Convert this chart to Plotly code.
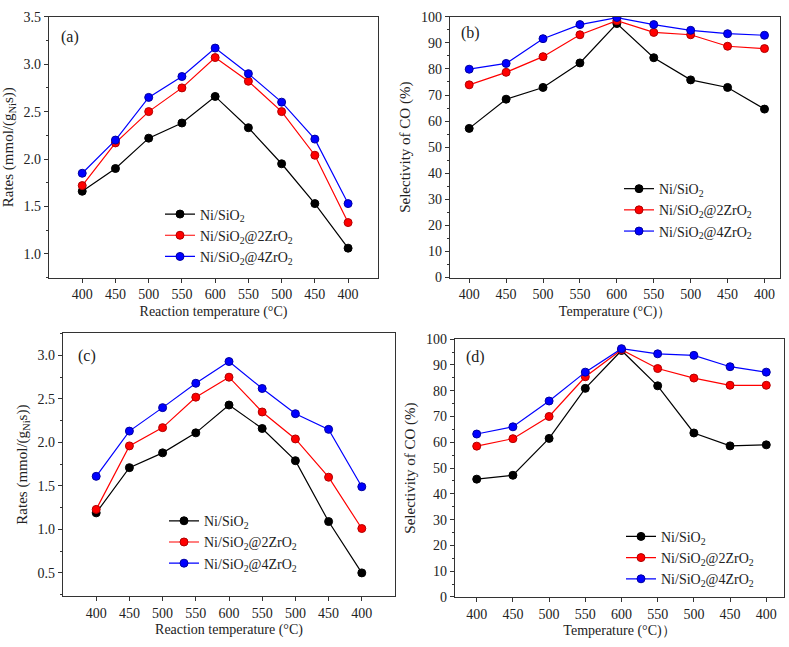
import plotly.graph_objects as go

temps = ["400", "450", "500", "550", "600", "550", "500", "450", "400"]
names = ["Ni/SiO<sub>2</sub>", "Ni/SiO<sub>2</sub>@2ZrO<sub>2</sub>", "Ni/SiO<sub>2</sub>@4ZrO<sub>2</sub>"]

a_ni = [1.66, 1.90, 2.22, 2.38, 2.66, 2.33, 1.95, 1.53, 1.06]
a_2zr = [1.72, 2.17, 2.50, 2.75, 3.07, 2.82, 2.50, 2.04, 1.33]
a_4zr = [1.85, 2.20, 2.65, 2.87, 3.17, 2.90, 2.60, 2.21, 1.53]

b_ni = [57.2, 68.4, 72.9, 82.3, 97.4, 84.3, 75.8, 72.9, 64.6]
b_2zr = [73.9, 78.7, 84.7, 93.1, 98.5, 94.0, 93.1, 88.7, 87.8]
b_4zr = [79.9, 82.1, 91.6, 97.0, 99.7, 97.0, 94.8, 93.5, 92.9]

c_ni = [1.19, 1.71, 1.88, 2.11, 2.43, 2.16, 1.79, 1.09, 0.50]
c_2zr = [1.23, 1.96, 2.17, 2.52, 2.75, 2.35, 2.04, 1.60, 1.01]
c_4zr = [1.61, 2.13, 2.40, 2.68, 2.93, 2.62, 2.33, 2.15, 1.49]

d_ni = [45.7, 47.2, 61.5, 80.9, 95.6, 81.9, 63.6, 58.6, 59.0]
d_2zr = [58.5, 61.4, 70.0, 85.4, 95.9, 88.6, 84.9, 82.1, 82.1]
d_4zr = [63.2, 66.0, 76.0, 87.2, 96.3, 94.3, 93.7, 89.3, 87.2]

colors = ["#000000", "#ff0000", "#0000ff"]
edge = ["#000000", "#b00000", "#0000a0"]

W, H = 789, 647
FONT = "Liberation Serif"

panels = [
    dict(data=[a_ni, a_2zr, a_4zr], box=(49, 378, 10, 277), xr=[-1.0, 8.9], yr=[0.75, 3.5],
         dtick=0.5, minor=0.25, fmt=".1f", ytitle="Rates (mmol/(g<sub>Ni</sub>s))",
         xtitle="Reaction temperature (°C)", label="(a)", lab=(59, 19), leg=(160, 196)),
    dict(data=[b_ni, b_2zr, b_4zr], box=(450, 780, 10, 277), xr=[-0.52, 8.42], yr=[0, 100],
         dtick=10, minor=5, fmt="d", ytitle="Selectivity of CO (%)",
         xtitle="Temperature (°C)）", label="(b)", lab=(459, 15), leg=(619, 170)),
    dict(data=[c_ni, c_2zr, c_4zr], box=(63, 395, 334, 603), xr=[-1.0, 9.0], yr=[0.234, 3.255],
         dtick=0.5, minor=0.25, fmt=".1f", ytitle="Rates (mmol/(g<sub>Ni</sub>s))",
         xtitle="Reaction temperature (°C)", label="(c)", lab=(76, 346), leg=(164, 510)),
    dict(data=[d_ni, d_2zr, d_4zr], box=(455, 784, 340, 604), xr=[-0.6, 8.49], yr=[0, 100],
         dtick=10, minor=5, fmt="d", ytitle="Selectivity of CO (%)",
         xtitle="Temperature (°C)）", label="(d)", lab=(464, 347), leg=(621, 526)),
]

fig = go.Figure()
layout = dict(width=W, height=H, margin=dict(l=0, r=0, t=0, b=0),
              paper_bgcolor="white", plot_bgcolor="white",
              font=dict(family=FONT, size=14, color="#222"),
              annotations=[])

xi = list(range(len(temps)))
for i, p in enumerate(panels):
    n = "" if i == 0 else str(i + 1)
    xa, ya = "x" + n, "y" + n
    legname = "legend" if i == 0 else "legend" + str(i + 1)
    for s in range(3):
        fig.add_trace(go.Scatter(
            x=xi, y=p["data"][s], mode="lines+markers", name=names[s],
            line=dict(color=colors[s], width=1.2),
            marker=dict(color=colors[s], size=8, line=dict(color=edge[s], width=1)),
            xaxis=xa, yaxis=ya, legend=legname, showlegend=True))
    x0, x1, y0, y1 = p["box"]
    axis_common = dict(showline=True, linecolor="#333", linewidth=1.2, mirror=True,
                       ticks="outside", ticklen=4, tickwidth=1, tickcolor="#333",
                       showgrid=False, zeroline=False,
                       tickfont=dict(family=FONT, size=14, color="#222"))
    layout["xaxis" + n] = dict(axis_common, domain=[x0 / W, x1 / W], range=p["xr"],
                               anchor=ya, tickmode="array", tickvals=xi, ticktext=temps,
                               title=dict(text=p["xtitle"], standoff=4,
                                          font=dict(family=FONT, size=14, color="#222")))
    layout["yaxis" + n] = dict(axis_common, domain=[1 - y1 / H, 1 - y0 / H], range=p["yr"],
                               anchor=xa, dtick=p["dtick"], tick0=0, tickformat=p["fmt"],
                               minor=dict(dtick=p["minor"], ticks="outside", ticklen=2,
                                          tickcolor="#333", showgrid=False),
                               title=dict(text=p["ytitle"], standoff=6,
                                          font=dict(family=FONT, size=15, color="#222")))
    lx, ly = p["leg"]
    layout[legname] = dict(x=lx / W, y=1 - ly / H, xanchor="left", yanchor="top",
                           bgcolor="rgba(0,0,0,0)", tracegroupgap=0, itemwidth=30,
                           font=dict(family=FONT, size=14, color="#222"))
    ax_, ay_ = p["lab"]
    layout["annotations"].append(dict(
        text=p["label"], xref="paper", yref="paper",
        x=ax_ / W, y=1 - ay_ / H, xanchor="left", yanchor="top",
        showarrow=False, font=dict(family=FONT, size=16, color="#222")))

fig.update_layout(**layout)
fig.write_html("out.html", config={"displayModeBar": False},
               post_script="document.body.style.margin='0px';document.body.style.overflow='hidden';")
